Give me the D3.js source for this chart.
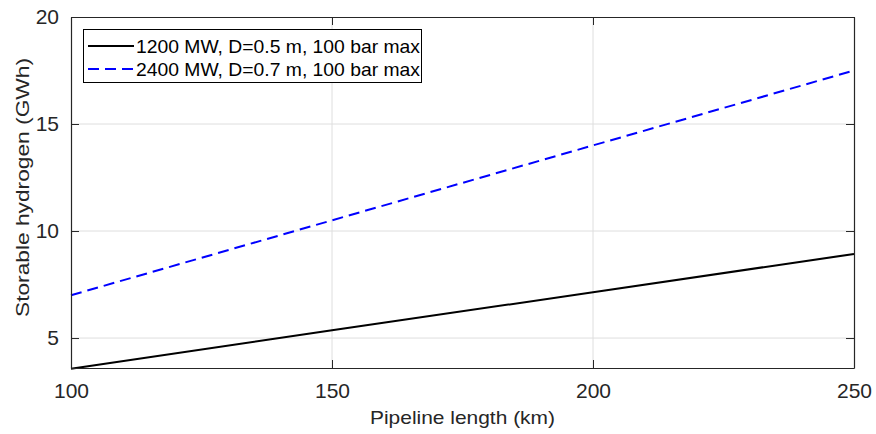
<!DOCTYPE html>
<html><head><meta charset="utf-8">
<script src="https://cdn.jsdelivr.net/npm/d3@7/dist/d3.min.js"></script>
<style>body{margin:0;background:#fff}svg{display:block}text{font-family:"Liberation Sans",Arial,sans-serif}</style>
</head><body>
<script>
const lengths = [100, 150, 200, 250];
const series1 = [3.57, 5.36, 7.14, 8.93];
const series2 = [7.0, 10.5, 14.0, 17.5];
const seriesNames = ["1200 MW, D=0.5 m, 100 bar max", "2400 MW, D=0.7 m, 100 bar max"];
const xTicks = [100, 150, 200, 250];
const yTicks = [5, 10, 15, 20];
const xLabel = "Pipeline length (km)";
const yLabel = "Storable hydrogen (GWh)";

const W = 876, H = 434;
const m = {l: 71, r: 22, t: 17, b: 66};
const svg = d3.select("body").append("svg").attr("width", W).attr("height", H);
const x = d3.scaleLinear().domain([100, 250]).range([m.l, W - m.r]);
const y = d3.scaleLinear().domain([3.6, 20]).range([H - m.b, m.t]);
const axisCol = "#262626";

// grid
svg.append("g").selectAll("line").data(xTicks.slice(1, -1)).join("line")
  .attr("x1", d => x(d)).attr("x2", d => x(d)).attr("y1", m.t).attr("y2", H - m.b)
  .attr("stroke", "#dedede").attr("stroke-width", 1);
svg.append("g").selectAll("line").data(yTicks.slice(0, -1)).join("line")
  .attr("y1", d => y(d)).attr("y2", d => y(d)).attr("x1", m.l).attr("x2", W - m.r)
  .attr("stroke", "#dedede").attr("stroke-width", 1);

// lines
const line = d3.line().x((d, i) => x(lengths[i])).y(d => y(d));
svg.append("path").datum(series1).attr("d", line).attr("fill", "none")
  .attr("stroke", "#000").attr("stroke-width", 2);
svg.append("path").datum(series2).attr("d", line).attr("fill", "none")
  .attr("stroke", "#0000ff").attr("stroke-width", 2).attr("stroke-dasharray", "11,6");

// axes
const tickLen = 8;
const xAxB = svg.append("g").attr("transform", `translate(0,${H - m.b})`)
  .call(d3.axisBottom(x).tickValues(xTicks).tickSize(-tickLen).tickPadding(15).tickSizeOuter(0));
const xAxT = svg.append("g").attr("transform", `translate(0,${m.t})`)
  .call(d3.axisTop(x).tickValues(xTicks).tickSize(-tickLen).tickFormat("").tickSizeOuter(0));
const yAxL = svg.append("g").attr("transform", `translate(${m.l},0)`)
  .call(d3.axisLeft(y).tickValues(yTicks).tickSize(-tickLen).tickPadding(12).tickSizeOuter(0));
const yAxR = svg.append("g").attr("transform", `translate(${W - m.r},0)`)
  .call(d3.axisRight(y).tickValues(yTicks).tickSize(-tickLen).tickFormat("").tickSizeOuter(0));
[xAxB, xAxT, yAxL, yAxR].forEach(g => {
  g.selectAll("path").attr("stroke", axisCol).attr("stroke-width", 1.2);
  g.selectAll("line").attr("stroke", axisCol).attr("stroke-width", 1);
  g.selectAll("text").attr("fill", axisCol).style("font-size", "21px")
    .style("font-family", '"Liberation Sans",Arial,sans-serif');
});
xAxB.selectAll("text").attr("dy", "0.71em");

// labels
svg.append("text").attr("x", (m.l + W - m.r) / 2).attr("y", 424)
  .attr("text-anchor", "middle").attr("fill", axisCol).style("font-size", "19px")
  .attr("textLength", 185).attr("lengthAdjust", "spacingAndGlyphs").text(xLabel);
svg.append("text").attr("transform", `translate(29,187.5) rotate(-90)`)
  .attr("text-anchor", "middle").attr("fill", axisCol).style("font-size", "19px")
  .attr("textLength", 259).attr("lengthAdjust", "spacingAndGlyphs").text(yLabel);

// legend
const lg = svg.append("g");
lg.append("rect").attr("x", 83.5).attr("y", 29.5).attr("width", 338).attr("height", 53)
  .attr("fill", "#fff").attr("stroke", "#000").attr("stroke-width", 1);
const rows = [{c: "#000", dash: null, yy: 46}, {c: "#0000ff", dash: "11,6", yy: 69}];
rows.forEach((r, i) => {
  lg.append("line").attr("x1", 88).attr("x2", 134).attr("y1", r.yy).attr("y2", r.yy)
    .attr("stroke", r.c).attr("stroke-width", 2).attr("stroke-dasharray", r.dash);
  lg.append("text").attr("x", 136).attr("y", r.yy).attr("dy", "0.35em")
    .attr("fill", "#000").style("font-size", "19px")
    .attr("textLength", 284).attr("lengthAdjust", "spacingAndGlyphs").text(seriesNames[i]);
});
</script>
</body></html>
